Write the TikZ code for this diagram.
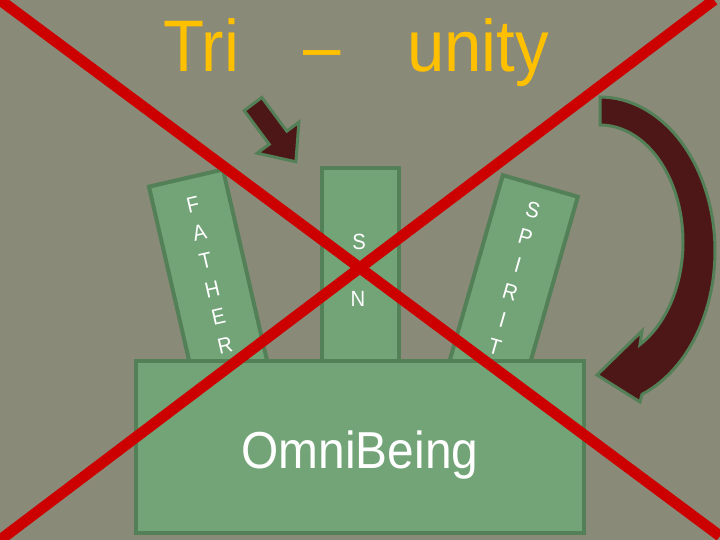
\documentclass[tikz,border=0pt]{standalone}
\usepackage{fontspec}
\setmainfont[FakeStretch=0.92]{Liberation Sans}
\definecolor{bg}{RGB}{137,138,120}
\definecolor{boxfill}{RGB}{114,164,120}
\definecolor{boxline}{RGB}{84,128,88}
\definecolor{arrowfill}{RGB}{78,23,23}
\definecolor{crossred}{RGB}{204,0,0}
\definecolor{titleyellow}{RGB}{255,192,0}
\tikzset{
  box/.style={draw=boxline, fill=boxfill, line width=4pt, inner sep=0pt},
  lett/.style={text=white, inner sep=0pt, font=\fontsize{22}{26}\selectfont},
  titletext/.style={text=titleyellow, inner sep=0pt, anchor=base, font=\fontsize{73}{80}\selectfont},
  blockarrow/.style={draw=boxline, fill=arrowfill, line width=3pt, line join=miter},
  crossline/.style={draw=crossred, line width=11pt}
}
\begin{document}
\begin{tikzpicture}[x=1pt,y=-1pt]
\fill[bg] (0,0) rectangle (720,540);
\useasboundingbox (0,0) rectangle (720,540);

% tilted and upright boxes
\node[box, minimum width=76pt, minimum height=220pt, rotate=13] (father) at (210.7,285.3) {};
\node[box, minimum width=78pt, minimum height=220pt, rotate=-16] (spirit) at (510,291.7) {};
\node[box, minimum width=77pt, minimum height=220pt] (son) at (360,278) {};

% letters
\foreach \c [count=\i from 0] in {F,A,T,H,E,R}
  \node[lett, rotate=13] (f\i) at ({193+6.4*\i},{205+28*\i}) {\c};
\foreach \c [count=\i from 0] in {S,P,I,R,I,T}
  \node[lett, rotate=-16] (sp\i) at ({533-7.6*\i},{210+27.4*\i}) {\c};
\node[lett] (s1) at (359,242) {S};
\node[lett] (s2) at (358,299) {N};

% base
\node[box, minimum width=448pt, minimum height=172pt] (base) at (360,447) {};
\node[anchor=base, inner sep=0pt, text=white, font=\fontsize{52}{60}\selectfont] (omni) at (360,468) {OmniBeing};

% small arrow
\draw[blockarrow] (244.2,110.6) -- (269.2,144.3) -- (257.1,153.2) -- (295.9,161.8)
  -- (298.9,122.2) -- (286.8,131.1) -- (261.8,97.4) -- cycle;

% curved arrow
\draw[blockarrow] plot[domain=90:-68.6, samples=60] ({600+115*cos(\x)},{251-154*sin(\x)})
  -- (640,402) -- (597,375) -- (642,331)
  -- plot[domain=-61.2:90, samples=60] ({600+83*cos(\x)},{242-117*sin(\x)}) -- cycle;

% title
\node[titletext] (tri) at (201,72) {Tri};
\node[titletext] (dash) at (322,72) {–};
\node[titletext] (unity) at (478,72) {unity};

% red cross
\coordinate (c1a) at (0,0);
\coordinate (c1b) at (720,536);
\coordinate (c2a) at (714,0);
\coordinate (c2b) at (0,540);
\begin{scope}
\clip (0,0) rectangle (720,540);
\draw[crossline] (c1a) -- (c1b);
\draw[crossline] (c2a) -- (c2b);
\end{scope}
\end{tikzpicture}
\end{document}
